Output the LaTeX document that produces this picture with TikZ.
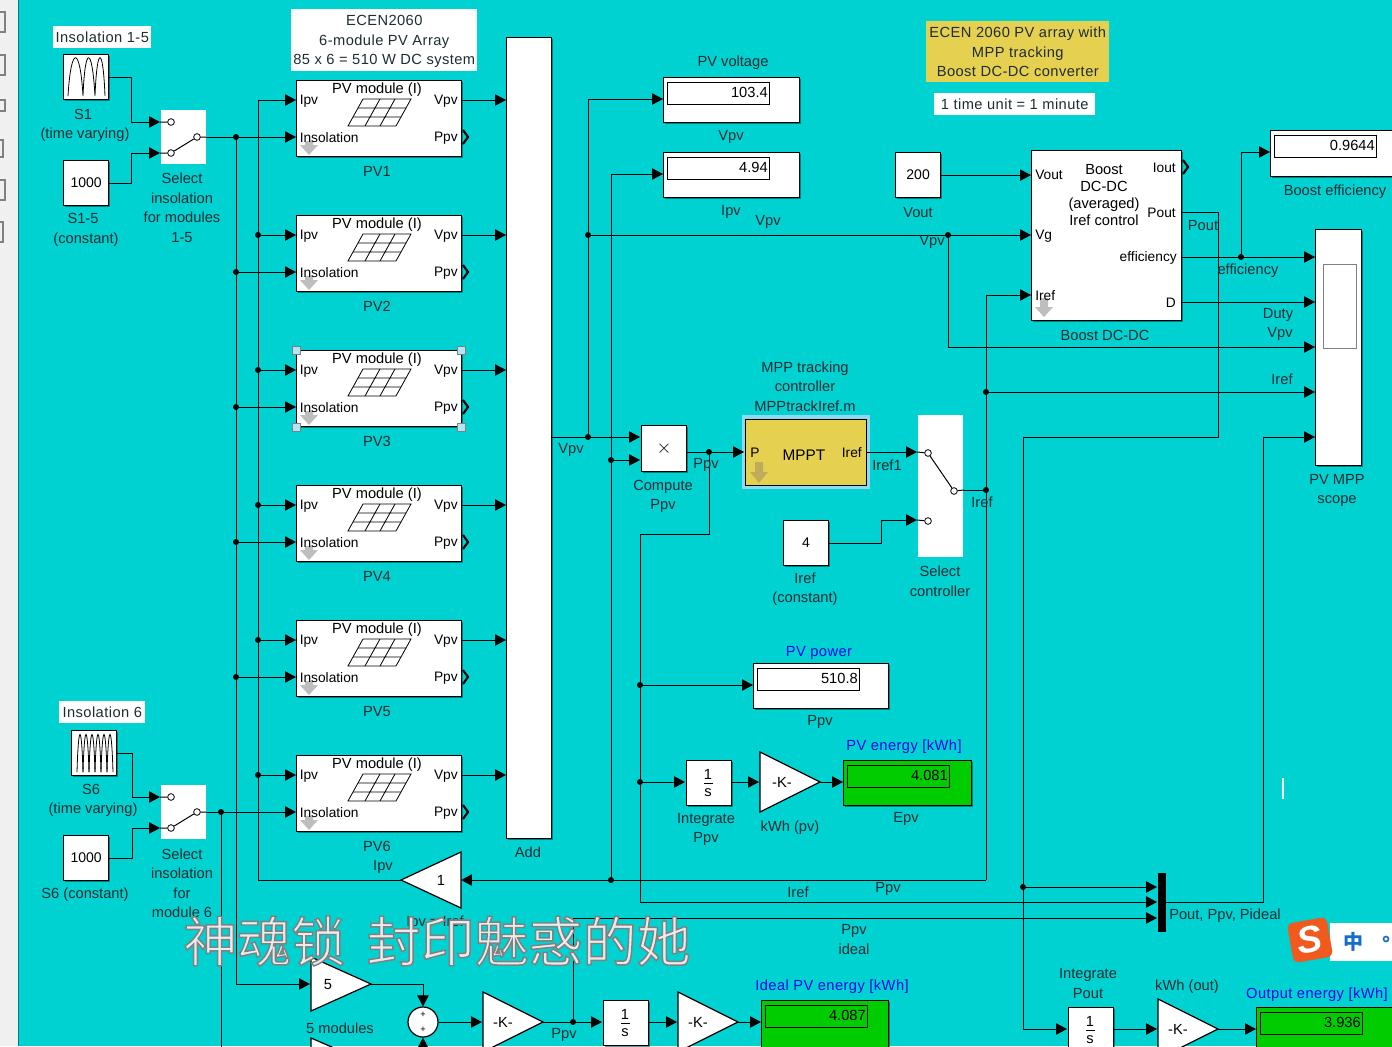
\documentclass[tikz,border=0pt]{standalone}
\usepackage{fontspec}
\setmainfont{Liberation Sans}
\newfontfamily\cjkfont{Noto Sans CJK SC}
\usetikzlibrary{arrows.meta, shadows}

\definecolor{canvasteal}{RGB}{0,209,209}
\definecolor{stripgray}{RGB}{240,240,240}
\definecolor{inkgray}{RGB}{30,45,50}
\definecolor{notegold}{RGB}{230,208,80}
\definecolor{arrowgold}{RGB}{190,172,90}
\definecolor{arrowgray}{RGB}{190,190,190}
\definecolor{selectblue}{RGB}{143,216,240}
\definecolor{dispgreen}{RGB}{0,204,0}
\definecolor{titleblue}{RGB}{10,10,225}
\definecolor{sogouorange}{RGB}{240,90,30}
\definecolor{sogoublue}{RGB}{20,110,200}

\begin{document}
\begin{tikzpicture}[
    x=0.75pt, y=-0.75pt, % One unit is one pixel of the screenshot
    >={Triangle[length=8.2pt,width=8.5pt]}, % Set default arrow tip style
    wire/.style={black, line width=0.75pt}, % Style for signal lines
    sized/.style 2 args={minimum width=#1*0.75pt, minimum height=#2*0.75pt, inner sep=0pt},
    blockbox/.style={draw=black, line width=0.9pt, fill=white, anchor=north west, text=black,
        font=\fontsize{10.5}{13}\selectfont,
        drop shadow={shadow xshift=1.1pt, shadow yshift=-1.1pt, opacity=0.55, fill=black!70!canvasteal}},
    lbl/.style={text=inkgray, inner sep=0pt, align=center, yshift=-1pt, font=\fontsize{11}{14.6}\selectfont}, % Style for block names
    bluelbl/.style={lbl, text=titleblue, font=\fontsize{11}{14.6}\selectfont\addfontfeature{LetterSpace=3}},
    port/.style={text=black, inner sep=0pt, yshift=-0.7pt, font=\fontsize{10.3}{12}\selectfont},
    bigport/.style={port, font=\fontsize{11}{12}\selectfont},
    notewhite/.style={fill=white, inner sep=0pt, text=inkgray, align=center, anchor=north west, text depth=0pt,
        font=\fontsize{11}{14.6}\selectfont\addfontfeature{LetterSpace=3}},
    dotmark/.style={fill=black, circle, inner sep=0pt, minimum size=4.5pt}, % Style for junctions
    contact/.style={draw=black, fill=white, circle, inner sep=0pt, minimum size=5pt, line width=0.6pt},
    chevron/.style={black, line width=1.6pt},
    tiny/.style={text=black, inner sep=0pt, font=\fontsize{7}{8}\selectfont}
]

    \useasboundingbox (0,0) rectangle (1392,1046);
    \clip (0,0) rectangle (1392,1046);

    % Canvas and toolbar strip
    \fill[canvasteal] (0,0) rectangle (1392,1046);
    \fill[stripgray] (0,0) rectangle (18,1046);
    \draw[black!40!canvasteal, line width=0.75pt] (18.5,0) -- (18.5,1046);
    \foreach \a/\b/\c in {5/12/32, 5/55/75, 5/100/111, 3/140/157, 5/180/200, 3/222/242}
        \draw[gray, line width=0.9pt] (-2,\b) rectangle (\a,\c);

    % Notes
    \node[notewhite, sized={98}{22}] (note1to5) at (53,26) {Insolation 1-5};
    \node[notewhite, sized={86}{22}] (note6) at (59,701) {Insolation 6};
    \node[notewhite, sized={186}{62}] (notearray) at (291,9) {ECEN2060\\6-module PV Array\\85 x 6 = 510 W DC system};
    \node[notewhite, sized={183}{61}, fill=notegold] (notetitle) at (926,21) {ECEN 2060 PV array with\\MPP tracking\\Boost DC-DC converter};
    \node[notewhite, sized={161}{22}] (notetime) at (934,93) {1 time unit = 1 minute};

    % Six PV modules
    \foreach \n/\t in {1/80, 2/215, 3/350, 4/485, 5/620, 6/755} {
        \begin{scope}[shift={(0,\t-80)}]
            \node[blockbox, sized={165}{76}] (pv\n) at (296,80) {};
            \coordinate (pv\n ipv) at (296,100);
            \coordinate (pv\n ins) at (296,137);
            \coordinate (pv\n vpv) at (461,100);
            \coordinate (bus\n ipv) at (258,100);
            \coordinate (bus\n ins) at (236,137);
            \coordinate (add\n) at (506,100);
            % Panel drawing
            \draw[black, line width=0.6pt] (348,126) -- (396,126) -- (411,99) -- (363,99) -- cycle;
            \draw[black, line width=0.6pt] (353,117) -- (401,117) (358,108) -- (406,108)
                (365,126) -- (380,99) (380,126) -- (395,99);
            \fill[arrowgray] (305,141) -- (313,141) -- (313,145) -- (318,145) -- (309,155) -- (300,145) -- (305,145) -- cycle;
            \node[lbl, text=inkgray] (pv\n name) at (377,170) {PV\n};
            \node[bigport] (pv\n title) at (377,89) {PV module (I)};
            \node[port, anchor=west] (pv\n a) at (299.5,100) {Ipv};
            \node[port, anchor=west] (pv\n b) at (299.5,137) {Insolation};
            \node[port, anchor=east] (pv\n c) at (458,100) {Vpv};
            \node[port, anchor=east] (pv\n d) at (458,137) {Ppv};
            \draw[chevron] (463,130) -- (468,137) -- (463,144);
            \node[tiny] (plus\n) at (514,100) {+};
            \draw[wire,->] (bus\n ipv) -- (pv\n ipv);
            \draw[wire,->] (pv\n vpv) -- (add\n);
        \end{scope}
    }
    \foreach \n in {1,...,5}
        \draw[wire,->] (bus\n ins) -- (pv\n ins);
    \foreach \a/\b in {296/350, 461/350, 296/427, 461/427}
        \draw[fill=selectblue!70!white, draw=gray, line width=0.5pt] (\a-4,\b-4) rectangle (\a+4,\b+4);

    % Adder and scope
    \node[blockbox, sized={45}{801}] (add) at (506,37) {};
    \coordinate (addout) at (551,437);
    \node[blockbox, sized={46}{236}] (scope) at (1315,229) {};
    \draw[gray, fill=white, line width=0.75pt] (1323,264) rectangle (1356,348);
    \foreach \n/\y in {1/257, 2/302, 3/347, 4/392, 5/437}
        \coordinate (scopep\n) at (1315,\y);

    % Sources
    \node[blockbox, sized={45}{45}] (s1) at (63,54) {};
    \draw[black, line width=0.6pt] (68,96) .. controls (71,45) and (80,45) .. (83,96)
        .. controls (85,45) and (92,45) .. (95,96) .. controls (97,45) and (103,45) .. (105,96);
    \node[blockbox, sized={45}{45}] (s6) at (71,730) {};
    \foreach \a in {77,83,...,107}
        \draw[black, line width=0.6pt] (\a,772) .. controls (\a+1.5,722) and (\a+4.5,722) .. (\a+6,772);
    \foreach \n/\x/\y/\t in {c15/63/160/1000, c6/63/835/1000, c4/783/520/4, cvout/895/152/200}
        \node[blockbox, sized={45}{45}] (\n) at (\x,\y) {\t};

    % Switches
    \foreach \n/\y/\h in {sw1/110/54, sw2/785/54} {
        \node[notewhite, sized={45}{\h}] (\n) at (161,\y) {};
        \coordinate (\n a) at (160,\y+12);
        \coordinate (\n b) at (160,\y+43);
        \coordinate (\n out) at (206,\y+27);
        \node[contact] (\n ca) at (171,\y+12) {};
        \node[contact] (\n cb) at (171,\y+43) {};
        \node[contact] (\n cc) at (197,\y+27) {};
        \draw[wire] (\n a) -- (\n ca) (\n b) -- (\n cb) (\n cb) -- (\n cc) (\n cc) -- (\n out);
    }
    \node[notewhite, sized={45}{142}] (sel) at (918,415) {};
    \coordinate (sela) at (917,452);
    \coordinate (selb) at (917,520);
    \coordinate (selout) at (964,490);
    \node[contact] (selca) at (928,453) {};
    \node[contact] (selcb) at (928,521) {};
    \node[contact] (selcc) at (954,491) {};
    \draw[wire] (sela) -- (selca) (selb) -- (selcb) (selca) -- (selcc) (selcc) -- (selout);

    % Product and MPPT
    \node[blockbox, sized={45}{46}, font=\fontsize{14}{14}\selectfont] (prod) at (641,425) {$\times$};
    \coordinate (proda) at (640,437);
    \coordinate (prodb) at (640,460);
    \coordinate (prodout) at (686,452);
    \node[notewhite, sized={128}{74}, fill=selectblue] (mppthl) at (742,415) {};
    \node[draw=black, line width=0.9pt, fill=notegold, anchor=north west, sized={121}{66}] (mppt) at (745,419) {};
    \coordinate (mpptp) at (744,452);
    \coordinate (mpptout) at (866,452);
    \fill[arrowgold] (755,462) -- (763,462) -- (763,472) -- (768,472) -- (759,483) -- (750,472) -- (755,472) -- cycle;
    \node[port, anchor=west] (mppta) at (750,452) {P};
    \node[bigport, font=\fontsize{11.5}{12}\selectfont] (mpptb) at (804,454) {MPPT};
    \node[port, anchor=east] (mpptc) at (862,452) {Iref};

    % Displays
    \foreach \n/\x/\y/\w/\h/\s/\v in {pvv/663/77/136/45/white/103.4, pvi/663/152/136/45/white/4.94,
        pvp/753/663/135/45/white/510.8, eff/1270/130/130/46/white/0.9644, epv/843/760/128/45/dispgreen/4.081,
        eid/761/1000/127/52/dispgreen/4.087, eout/1256/1007/140/52/dispgreen/3.936} {
        \node[blockbox, sized={\w}{\h}, fill=\s] (disp\n) at (\x,\y) {};
        \draw[black, line width=0.75pt] (\x+4,\y+5) rectangle (\x+106,\y+27);
        \node[bigport, anchor=east] (val\n) at (\x+105,\y+15) {\v};
        \coordinate (disp\n in) at (\x,\y+22);
    }

    % Integrators
    \foreach \n/\x/\y in {intpv/686/760, intid/603/1000, intout/1068/1007} {
        \node[blockbox, sized={45}{45}] (\n) at (\x,\y) {};
        \node[bigport] (\n a) at (\x+22,\y+14) {1};
        \node[bigport] (\n b) at (\x+22,\y+32) {s};
        \draw[black, line width=0.75pt] (\x+18,\y+23) -- (\x+27,\y+23);
        \coordinate (\n in) at (\x-1,\y+22);
        \coordinate (\n out) at (\x+45,\y+22);
    }

    % Gains
    \foreach \n/\x/\y/\h/\t/\o in {five/311/984/27/5/17, pv/760/782/30/-K-/22, id/483/1022/30/-K-/20,
        k/678/1022/30/-K-/20, out/1158/1029/30/-K-/20, low/311/1064/26//17} {
        \draw[black, fill=white, line width=0.9pt] (\x,\y-\h) -- (\x+60,\y) -- (\x,\y+\h) -- cycle;
        \node[bigport] (gain\n) at (\x+\o,\y) {\t};
        \coordinate (gain\n in) at (\x-1,\y);
        \coordinate (gain\n out) at (\x+60,\y);
    }
    \draw[black, fill=white, line width=0.9pt] (461,852) -- (401,880) -- (461,908) -- cycle;
    \node[bigport] (gainone) at (441,880) {1};
    \coordinate (gainonein) at (461,880);
    \coordinate (gainoneout) at (401,880);

    % Sum and mux
    \node[draw=black, fill=white, circle, sized={30}{30}, line width=0.9pt] (sum) at (423,1022) {};
    \node[tiny] (suma) at (423,1015) {+};
    \node[tiny] (sumb) at (423,1030) {+};
    \coordinate (sumlow) at (423,1064);
    \fill[black] (1158,873) rectangle (1166,932);
    \coordinate (muxa) at (1157,887);
    \coordinate (muxb) at (1157,902);
    \coordinate (muxc) at (1157,918);
    \coordinate (muxout) at (1166,902);

    % Boost converter
    \node[blockbox, sized={150}{170}] (boost) at (1031,150) {};
    \coordinate (boostvout) at (1031,174);
    \coordinate (boostvg) at (1031,235);
    \coordinate (boostiref) at (1031,295);
    \coordinate (boostpout) at (1181,212);
    \coordinate (boosteff) at (1181,257);
    \coordinate (boostd) at (1181,302);
    \fill[arrowgray] (1040,298) -- (1048,298) -- (1048,307) -- (1053,307) -- (1044,317) -- (1035,307) -- (1040,307) -- cycle;
    \node[port, anchor=west] (boosta) at (1035,174) {Vout};
    \node[port, anchor=west] (boostb) at (1035,235) {Vg};
    \node[port, anchor=west] (boostc) at (1035,295) {Iref};
    \node[port, anchor=east] (booste) at (1176,167) {Iout};
    \node[port, anchor=east] (boostf) at (1176,212) {Pout};
    \node[port, anchor=east] (boostg) at (1177,257) {efficiency};
    \node[port, anchor=east] (boosth) at (1176,302) {D};
    \node[port, align=center, font=\fontsize{11}{12.7}\selectfont] (boosttitle) at (1104,194) {Boost\\DC-DC\\(averaged)\\Iref control};
    \draw[chevron] (1183,160) -- (1188,167) -- (1183,174);

    % Junction points and corners
    \coordinate (jvpv) at (588,437);
    \coordinate (jvg) at (588,235);
    \coordinate (jvs) at (948,235);
    \coordinate (jprod) at (611,460);
    \coordinate (jipv) at (611,880);
    \coordinate (jsel) at (986,490);
    \coordinate (jsc) at (986,392);
    \coordinate (cirefb) at (986,880);
    \coordinate (jppv) at (709,452);
    \coordinate (cppv) at (640,534);
    \coordinate (jpp) at (640,685);
    \coordinate (jint) at (640,782);
    \coordinate (jeff) at (1241,257);
    \coordinate (cpout) at (1218,437);
    \coordinate (cintout) at (1023,1029);
    \coordinate (jmux) at (1023,887);
    \coordinate (cmux) at (1263,437);
    \coordinate (jideal) at (573,1022);
    \coordinate (jsw2) at (221,812);
    \coordinate (sw2down) at (221,1050);

    % Array wiring
    \draw[wire,->] (s1.east) -- ++(22,0) |- (sw1a);
    \draw[wire,->] (c15.east) -- ++(22,0) |- (sw1b);
    \draw[wire,->] (s6.east) -- ++(15,0) |- (sw2a);
    \draw[wire,->] (c6.east) -- ++(23,0) |- (sw2b);
    \draw[wire] (sw1out) -- (bus1ins);
    \draw[wire,->] (sw2out) -- (pv6ins);
    \draw[wire] (jsw2) -- (sw2down);
    \draw[wire,->] (bus1ins) |- (gainfivein);
    \draw[wire] (gainoneout) -| (bus1ipv);
    \draw[wire,->] (gainfiveout) -| (sum.north);
    \draw[wire,->] (sumlow) -- (sum.south);
    \draw[wire,->] (sum.east) -- (gainidin);

    % Voltage and current
    \draw[wire,->] (addout) -- (proda);
    \draw[wire,->] (jvpv) |- (disppvvin);
    \draw[wire,->] (jvg) -- (boostvg);
    \draw[wire,->] (jvs) |- (scopep3);
    \draw[wire,->] (jipv) |- (disppviin);
    \draw[wire,->] (jprod) -- (prodb);
    \draw[wire,->] (cirefb) -- (gainonein);
    \draw[wire,->] (cirefb) |- (boostiref);
    \draw[wire] (selout) -- (jsel);
    \draw[wire,->] (jsc) -- (scopep4);
    \draw[wire,->] (cvout.east) -- (cvout.east -| boostvout);

    % Power
    \draw[wire,->] (prodout) -- (mpptp);
    \draw[wire,->] (mpptout) -- (sela);
    \draw[wire,->] (c4.east) -- ++(52,0) |- (selb);
    \draw[wire,->] (jppv) |- (cppv) |- (muxb);
    \draw[wire,->] (jpp) -- (disppvpin);
    \draw[wire,->] (jint) -- (intpvin);
    \draw[wire,->] (intpvout) -- (gainpvin);
    \draw[wire,->] (gainpvout) -- (dispepvin);
    \draw[wire,->] (gainidout) -- (intidin);
    \draw[wire,->] (intidout) -- (gainkin);
    \draw[wire,->] (gainkout) -- (dispeidin);
    \draw[wire,->] (jideal) |- (muxc);
    \draw[wire,->] (boostpout) -| (cpout) -| (cintout) -- (intoutin);
    \draw[wire,->] (jmux) -- (muxa);
    \draw[wire,->] (intoutout) -- (gainoutin);
    \draw[wire,->] (gainoutout) -- (dispeoutin);
    \draw[wire,->] (muxout) -| (cmux) -- (scopep5);
    \draw[wire,->] (boosteff) -- (scopep1);
    \draw[wire,->] (jeff) |- (dispeffin);
    \draw[wire,->] (boostd) -- (scopep2);

    % Junction dots
    \foreach \j [count=\i] in {jvpv, jvg, jvs, jprod, jipv, jsel, jsc, jppv, jpp, jint, jeff, jmux, jideal, jsw2,
        bus1ins, bus2ins, bus3ins, bus4ins, bus5ins, bus2ipv, bus3ipv, bus4ipv, bus5ipv, bus6ipv}
        \node[dotmark] (dot\i) at (\j) {};

    % Block names and signal labels
    \foreach \x/\y/\t [count=\i] in {83/113/S1, 85/133/{(time varying)}, 83/217/S1-5, 86/238/{(constant)},
        182/206.5/{Select\\insolation\\for modules\\1-5}, 91/788/S6, 93/808/{(time varying)},
        85/893/{S6 (constant)}, 182/882/{Select\\insolation\\for\\module 6},
        528/851/Add, 383/866/Ipv, 435/921/{Ipv = Iref}, 571/449/Vpv, 663/495/{Compute\\Ppv}, 706/464/Ppv,
        805/385/{MPP tracking\\controller\\MPPtrackIref.m}, 887/464/Iref1, 805/588/{Iref\\(constant)},
        940/580/{Select\\controller}, 982/501/Iref, 820/721/Ppv, 706/828/{Integrate\\Ppv}, 790/826/{kWh (pv)},
        906/818/Epv, 733/61/{PV voltage}, 731/136/Vpv, 731/211/Ipv, 768/221/Vpv, 932/241/Vpv, 918/211/Vout,
        1105/334/{Boost DC-DC}, 1203/224/Pout, 1248/269/efficiency, 1278/314/Duty, 1280/333/Vpv, 1282/378/Iref,
        1337/489/{PV MPP\\scope}, 1335/190/{Boost efficiency}, 798/891/Iref, 888/888/Ppv, 854/938/{Ppv\\ideal},
        1225/914/{Pout, Ppv, Pideal}, 340/1027/{5 modules}, 564/1034/Ppv, 1088/982/{Integrate\\Pout},
        1187/985/{kWh (out)}}
        \node[lbl] (lbl\i) at (\x,\y) {\t};
    \node[bluelbl] (titlepower) at (819,652) {PV power};
    \node[bluelbl] (titleepv) at (904,745) {PV energy [kWh]};
    \node[bluelbl] (titleeid) at (832,985) {Ideal PV energy [kWh]};
    \node[bluelbl] (titleeout) at (1317,993) {Output energy [kWh]};

    % Screen overlays
    \node[inner sep=0pt, text=black!8, font=\cjkfont\fontsize{40.5}{40.5}\selectfont] (caption) at (437,941)
        {\special{pdf:code q 2 Tr 1.1 w 0.5 0.5 0.5 RG}神魂锁\hspace{16pt}封印魅惑的她\special{pdf:code Q}};
    \draw[white, line width=1.5pt] (1283,778) -- (1283,799);
    \fill[white] (1330,923) rectangle (1392,961);
    \node[fill=sogouorange, rounded corners=4pt, sized={40}{40}, rotate=10, text=white,
        font=\bfseries\itshape\fontsize{28}{28}\selectfont] (imelogo) at (1310,940) {S};
    \node[inner sep=0pt, text=sogoublue, font=\cjkfont\bfseries\fontsize{15}{15}\selectfont] (imemode) at (1353,942) {中};
    \node[draw=sogoublue, circle, line width=1.2pt, sized={5}{5}] (imedot) at (1386,939) {};

\end{tikzpicture}
\end{document}
